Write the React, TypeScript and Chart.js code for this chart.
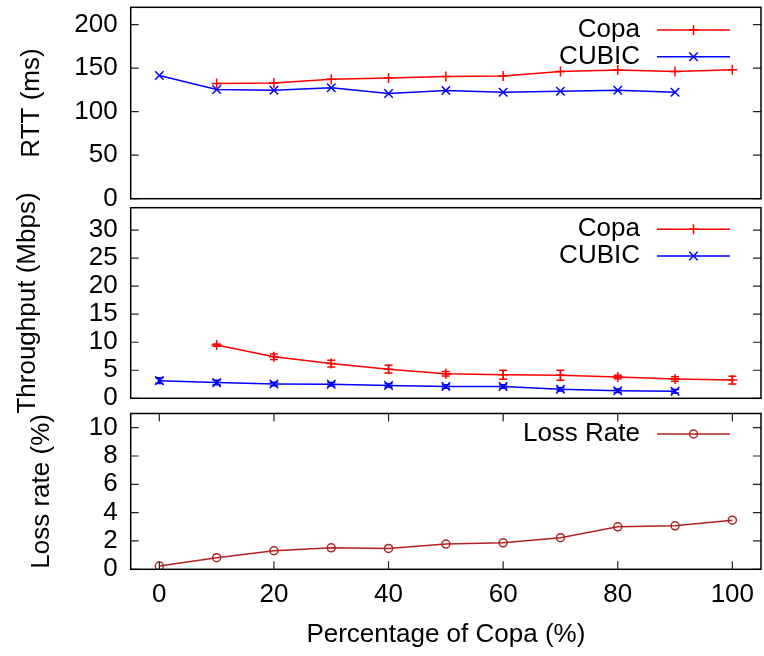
import React, { useEffect, useRef } from 'react';
import { Chart, registerables } from 'chart.js';

Chart.register(...registerables);

const FONT = '"Liberation Sans", Arial, Helvetica, sans-serif';
const FONT_SIZE = 26;

// ---- data ----
const X_VALUES = [0, 10, 20, 30, 40, 50, 60, 70, 80, 90, 100];
const X_TICKS = [0, 20, 40, 60, 80, 100];
const RTT_TICKS = [0, 50, 100, 150, 200];
const THR_TICKS = [0, 5, 10, 15, 20, 25, 30];
const LOSS_TICKS = [0, 2, 4, 6, 8, 10];

const COPA_RTT = [null, 132.4, 133.0, 137.4, 138.6, 140.5, 140.9, 146.3, 147.8, 146.3, 148.2];
const CUBIC_RTT = [141.7, 125.5, 124.7, 127.5, 120.9, 124.4, 122.4, 123.6, 124.7, 122.4, null];

const COPA_THR = [null, 9.5, 7.4, 6.2, 5.2, 4.4, 4.2, 4.1, 3.8, 3.45, 3.25];
const COPA_THR_ERR = [null, 0.2, 0.5, 0.6, 0.7, 0.4, 0.8, 0.9, 0.3, 0.4, 0.7];
const CUBIC_THR = [3.15, 2.8, 2.55, 2.5, 2.3, 2.1, 2.1, 1.6, 1.35, 1.25, null];
const CUBIC_THR_ERR = [0.5, 0.4, 0.3, 0.3, 0.3, 0.3, 0.3, 0.3, 0.3, 0.3, null];

const LOSS_RATE = [0.23, 0.82, 1.31, 1.52, 1.47, 1.78, 1.87, 2.23, 3.0, 3.07, 3.47];

const RED = '#ff0000';
const BLUE = '#0000ff';
const BROWN = '#b22222';

function pts(arr: (number | null)[]) {
  return X_VALUES.map((x, i) => ({ x, y: arr[i] }));
}

function drawMarker(ctx: CanvasRenderingContext2D, style: string, x: number, y: number, r: number) {
  ctx.beginPath();
  if (style === 'cross') {
    ctx.moveTo(x - r, y); ctx.lineTo(x + r, y);
    ctx.moveTo(x, y - r); ctx.lineTo(x, y + r);
  } else if (style === 'crossRot') {
    const d = r * 0.7071;
    ctx.moveTo(x - d, y - d); ctx.lineTo(x + d, y + d);
    ctx.moveTo(x - d, y + d); ctx.lineTo(x + d, y - d);
  } else {
    ctx.arc(x, y, r, 0, Math.PI * 2);
  }
  ctx.stroke();
}

const gnuPlugin = {
  id: 'gnu',
  afterDatasetsDraw(chart: any, _args: any, opts: any) {
    const ctx = chart.ctx as CanvasRenderingContext2D;
    const { left, right, top, bottom } = chart.chartArea;
    const xs = chart.scales.x;
    const ys = chart.scales.y;

    // error bars
    chart.data.datasets.forEach((ds: any) => {
      const errs = ds.errors as (number | null)[] | undefined;
      if (!errs) return;
      ctx.save();
      ctx.strokeStyle = ds.borderColor;
      ctx.lineWidth = 1.5;
      ds.data.forEach((p: any, j: number) => {
        const e = errs[j];
        if (p.y == null || e == null) return;
        const px = xs.getPixelForValue(p.x);
        const y1 = ys.getPixelForValue(p.y - e);
        const y2 = ys.getPixelForValue(p.y + e);
        ctx.beginPath();
        ctx.moveTo(px, y1); ctx.lineTo(px, y2);
        ctx.moveTo(px - 4, y1); ctx.lineTo(px + 4, y1);
        ctx.moveTo(px - 4, y2); ctx.lineTo(px + 4, y2);
        ctx.stroke();
      });
      ctx.restore();
    });

    ctx.save();
    // inward ticks (gnuplot mirror style)
    ctx.strokeStyle = '#222';
    ctx.lineWidth = 1.2;
    ctx.beginPath();
    ys.ticks.forEach((t: any) => {
      const py = ys.getPixelForValue(t.value);
      ctx.moveTo(left, py); ctx.lineTo(left + 8, py);
      ctx.moveTo(right, py); ctx.lineTo(right - 8, py);
    });
    if (opts.xTicks) {
      xs.ticks.forEach((t: any) => {
        const px = xs.getPixelForValue(t.value);
        ctx.moveTo(px, bottom); ctx.lineTo(px, bottom - 8);
        ctx.moveTo(px, top); ctx.lineTo(px, top + 8);
      });
    }
    ctx.stroke();

    // border
    ctx.strokeStyle = '#000';
    ctx.lineWidth = 1.5;
    ctx.strokeRect(left, top, right - left, bottom - top);

    // legend (gnuplot style: text, then line sample with marker)
    const rows: number[] = opts.legendRows || [];
    chart.data.datasets.forEach((ds: any, i: number) => {
      const y = rows[i];
      if (y == null) return;
      ctx.fillStyle = '#000';
      ctx.font = `${FONT_SIZE}px ${FONT}`;
      ctx.textAlign = 'right';
      ctx.textBaseline = 'middle';
      ctx.fillText(ds.label, 640, y);
      ctx.strokeStyle = ds.borderColor;
      ctx.lineWidth = 1.5;
      ctx.beginPath();
      ctx.moveTo(657, y); ctx.lineTo(730, y);
      ctx.stroke();
      drawMarker(ctx, ds.pointStyle, 693.5, y, ds.pointRadius);
    });
    ctx.restore();
  },
};

interface Panel {
  top: number;
  bottom: number;
  yMax: number;
  yTicks: number[];
  title: string;
  titleCenterX: number;
  showX: boolean;
  legendRows: number[];
  datasets: any[];
}

const PLOT_LEFT = 130.7;
const PLOT_RIGHT_PAD = 3;
const H = 656;
const W = 764;

function makeConfig(p: Panel): any {
  const font = { size: FONT_SIZE, family: FONT };
  return {
    type: 'line',
    data: { datasets: p.datasets },
    plugins: [gnuPlugin],
    options: {
      responsive: false,
      animation: false,
      devicePixelRatio: 1,
      layout: {
        autoPadding: false,
        padding: {
          top: p.top,
          bottom: p.showX ? 0 : H - p.bottom,
          left: 0,
          right: PLOT_RIGHT_PAD,
        },
      },
      plugins: {
        legend: { display: false },
        tooltip: { enabled: false },
        gnu: { legendRows: p.legendRows, xTicks: p.showX },
      },
      scales: {
        x: {
          type: 'linear',
          min: -5,
          max: 105,
          display: p.showX,
          afterBuildTicks: (s: any) => {
            s.ticks = X_TICKS.map((v) => ({ value: v }));
          },
          afterFit: (s: any) => {
            if (p.showX) s.height = H - p.bottom;
            s.paddingLeft = 0;
            s.paddingRight = 0;
          },
          grid: { display: false, drawTicks: false },
          border: { display: false },
          ticks: { padding: 10, color: '#000', font, maxRotation: 0, autoSkip: false },
          title: {
            display: true,
            text: 'Percentage of Copa (%)',
            color: '#000',
            font,
            padding: { top: 0, bottom: 6 },
          },
        },
        y: {
          type: 'linear',
          min: 0,
          max: p.yMax,
          afterBuildTicks: (s: any) => {
            s.ticks = p.yTicks.map((v) => ({ value: v }));
          },
          afterFit: (s: any) => {
            s.width = PLOT_LEFT;
            s.paddingTop = 0;
            s.paddingBottom = 0;
          },
          grid: { display: false, drawTicks: false },
          border: { display: false },
          ticks: { padding: 13, color: '#000', font, autoSkip: false },
          title: {
            display: true,
            text: p.title,
            color: '#000',
            font,
            padding: { top: p.titleCenterX - FONT_SIZE * 0.6, bottom: 0 },
          },
        },
      },
    },
  };
}

function lineDs(label: string, arr: (number | null)[], color: string, style: string, r: number, errs?: (number | null)[]) {
  return {
    label,
    data: pts(arr),
    borderColor: color,
    backgroundColor: color,
    borderWidth: 1.5,
    pointStyle: style,
    pointRadius: r,
    pointBorderWidth: 1.5,
    pointBorderColor: color,
    pointBackgroundColor: 'rgba(0,0,0,0)',
    tension: 0,
    spanGaps: false,
    errors: errs,
  };
}

const PANELS: Panel[] = [
  {
    top: 7.3, bottom: 198.7, yMax: 220, yTicks: RTT_TICKS, title: 'RTT (ms)', titleCenterX: 32, showX: false,
    legendRows: [30, 56.7],
    datasets: [lineDs('Copa', COPA_RTT, RED, 'cross', 5), lineDs('CUBIC', CUBIC_RTT, BLUE, 'crossRot', 6)],
  },
  {
    top: 207.7, bottom: 398.3, yMax: 34, yTicks: THR_TICKS, title: 'Throughput (Mbps)', titleCenterX: 28, showX: false,
    legendRows: [229.3, 256],
    datasets: [lineDs('Copa', COPA_THR, RED, 'cross', 5, COPA_THR_ERR), lineDs('CUBIC', CUBIC_THR, BLUE, 'crossRot', 6, CUBIC_THR_ERR)],
  },
  {
    top: 413.5, bottom: 569.3, yMax: 11, yTicks: LOSS_TICKS, title: 'Loss rate (%)', titleCenterX: 42, showX: true,
    legendRows: [434],
    datasets: [lineDs('Loss Rate', LOSS_RATE, BROWN, 'circle', 4)],
  },
];

export default function App() {
  const r1 = useRef<HTMLCanvasElement>(null);
  const r2 = useRef<HTMLCanvasElement>(null);
  const r3 = useRef<HTMLCanvasElement>(null);

  useEffect(() => {
    const refs = [r1, r2, r3];
    const charts = PANELS.map((p, i) => new Chart(refs[i].current as HTMLCanvasElement, makeConfig(p)));
    return () => charts.forEach((c) => c.destroy());
  }, []);

  const cstyle: React.CSSProperties = { position: 'absolute', left: 0, top: 0, width: W, height: H };
  return (
    <div style={{ position: 'absolute', left: 0, top: 0, width: W, height: H, background: '#fff' }}>
      <canvas ref={r1} width={W} height={H} style={cstyle} />
      <canvas ref={r2} width={W} height={H} style={cstyle} />
      <canvas ref={r3} width={W} height={H} style={cstyle} />
    </div>
  );
}
